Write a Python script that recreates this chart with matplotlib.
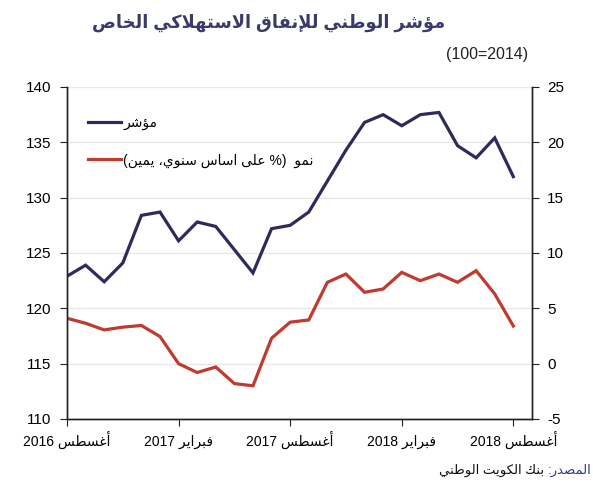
import re
import unicodedata
import matplotlib
matplotlib.use("Agg")
import matplotlib.pyplot as plt

plt.rcParams["axes.unicode_minus"] = False
plt.rcParams["font.family"] = ["Liberation Sans", "DejaVu Sans"]

# data (monthly, Aug 2016 .. Aug 2018)
index_vals = [122.9, 123.9, 122.4, 124.1, 128.4, 128.7, 126.1, 127.8, 127.4,
              125.3, 123.2, 127.2, 127.5, 128.7, 131.5, 134.3, 136.8, 137.5,
              136.5, 137.5, 137.7, 134.7, 133.6, 135.4, 131.9]
growth_vals = [4.1, 3.65, 3.05, 3.3, 3.45, 2.45, 0.0, -0.8, -0.3, -1.8, -2.0,
               2.3, 3.75, 3.95, 7.35, 8.1, 6.45, 6.75, 8.25, 7.5, 8.1, 7.35,
               8.4, 6.3, 3.4]
tick_pos = [0, 6, 12, 18, 24]
tick_labels = ["أغسطس 2016", "فبراير 2017", "أغسطس 2017", "فبراير 2018", "أغسطس 2018"]
series_names = ["مؤشر", "نمو  (% على اساس سنوي، يمين)"]
title = "مؤشر الوطني للإنفاق الاستهلاكي الخاص"
subtitle = "(100=2014)"
source_head = "المصدر:"
source_body = "بنك الكويت الوطني"

NAVY = "#2d2b5c"
RED = "#bf3a2f"

# --- minimal arabic shaping + rtl ordering (matplotlib doesn't shape text)
RIGHT_JOIN = set("اأإآدذرزوؤةى")
LAM_ALEF = {"ا": "", "أ": " WITH HAMZA ABOVE", "إ": " WITH HAMZA BELOW", "آ": " WITH MADDA ABOVE"}


def is_letter(c):
    return "\u0621" <= c <= "\u064a" and c != "\u0640"


def dual(c):
    return is_letter(c) and c not in RIGHT_JOIN and c != "ء"


def form(c, f):
    name = unicodedata.name(c)
    try:
        return unicodedata.lookup(name + " " + f + " FORM")
    except KeyError:
        return c


def shape(text):
    out = []
    i = 0
    prev_joins = False
    while i < len(text):
        c = text[i]
        if not is_letter(c):
            out.append(c)
            prev_joins = False
            i += 1
            continue
        if c == "ل" and i + 1 < len(text) and text[i + 1] in LAM_ALEF:
            f = "FINAL" if prev_joins else "ISOLATED"
            out.append(unicodedata.lookup("ARABIC LIGATURE LAM WITH ALEF" + LAM_ALEF[text[i + 1]] + " " + f + " FORM"))
            prev_joins = False
            i += 2
            continue
        nxt = text[i + 1] if i + 1 < len(text) else ""
        jn = dual(c) and nxt != "" and is_letter(nxt) and nxt != "ء"
        jp = prev_joins and c != "ء"
        if jp and jn:
            f = "MEDIAL"
        elif jp:
            f = "FINAL"
        elif jn:
            f = "INITIAL"
        else:
            f = "ISOLATED"
        out.append(form(c, f))
        prev_joins = jn
        i += 1
    return "".join(out)


def rtl(text):
    s = shape(text)[::-1]
    s = re.sub(r"[0-9]+", lambda m: m.group(0)[::-1], s)
    return s.translate(str.maketrans("()", ")("))


x = list(range(len(index_vals)))

fig = plt.figure(figsize=(5.93, 5.0), dpi=100)
ax = fig.add_axes([0.113, 0.162, 0.784, 0.664])
ax2 = ax.twinx()

ax.set_xlim(0, 25)
ax.set_ylim(110, 140)
ax2.set_ylim(-5, 25)
ax.set_yticks(range(110, 141, 5))
ax2.set_yticks(range(-5, 26, 5))
ax.yaxis.grid(True, color="#e6e6e6", lw=0.9)
ax.set_axisbelow(True)

for a in (ax, ax2):
    a.spines["top"].set_visible(False)
    for s in ("left", "right", "bottom"):
        a.spines[s].set_color("#222222")
        a.spines[s].set_linewidth(1.0)
    a.tick_params(axis="y", labelsize=11, length=5, color="#222222", pad=6)

ax.set_xticks(tick_pos)
ax.set_xticklabels([rtl(t) for t in tick_labels], fontsize=10)
ax.tick_params(axis="x", length=5, color="#222222", pad=14)
for lab in ax.get_xticklabels():
    lab.set_va("baseline")

l1, = ax.plot(x, index_vals, color=NAVY, lw=2.3, solid_joinstyle="miter")
l2, = ax2.plot(x, growth_vals, color=RED, lw=2.3, solid_joinstyle="miter")

ax2.legend([l1, l2], [rtl(n) for n in series_names], loc="upper left",
           bbox_to_anchor=(0.03, 0.935), frameon=False, fontsize=10,
           handlelength=2.4, handletextpad=0.15, labelspacing=1.7, borderpad=0)

fig.text(0.453, 0.955, rtl(title), ha="center", va="center", fontsize=12.8,
         fontweight="bold", color="#3b3a6c")
fig.text(0.89, 0.89, subtitle, ha="right", va="center", fontsize=11.5, color="#222222")
head = fig.text(0.997, 0.06, rtl(source_head), ha="right", va="center",
                fontsize=9.5, color="#2f3f8a")
ax.annotate(rtl(source_body) + " ", xy=(0, 0.5), xycoords=head, ha="right",
            va="center", fontsize=9.5, color="#111111")

fig.savefig("out.png", dpi=100)
